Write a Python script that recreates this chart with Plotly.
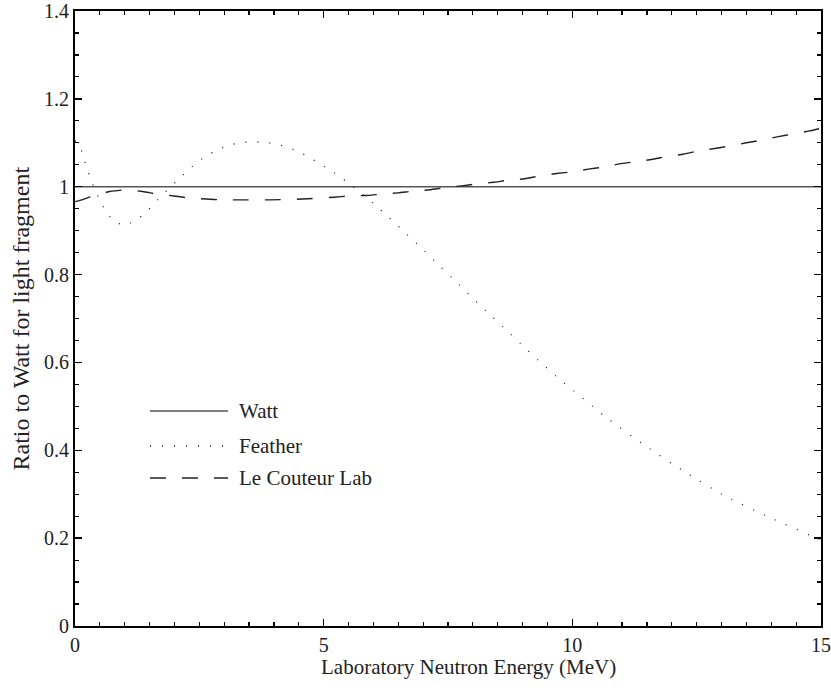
import plotly.graph_objects as go

# ---- data ----
watt_x = [0, 15]
watt_y = [1.0, 1.0]

feather_x = [0, 0.09, 0.17, 0.24, 0.32, 0.41, 0.51, 0.63, 0.78, 1.0, 1.23, 1.42, 1.58, 1.74,
             1.92, 2.09, 2.27, 2.45, 2.65, 2.86, 3.08, 3.31, 3.55, 3.79, 4.04, 4.27, 4.49,
             4.71, 4.91, 5.12, 5.32, 5.52, 5.70, 5.89, 6.07, 6.25, 6.43, 6.60, 6.96, 7.30,
             7.65, 7.99, 8.34, 8.69, 9.04, 9.39, 9.75, 10.13, 10.69, 11.47, 12.27, 13.10,
             13.97, 14.85, 15]
feather_y = [1.105, 1.094, 1.068, 1.042, 1.016, 0.991, 0.966, 0.942, 0.922, 0.912, 0.924,
             0.941, 0.960, 0.980, 0.999, 1.018, 1.037, 1.055, 1.071, 1.084, 1.094, 1.100,
             1.102, 1.102, 1.097, 1.090, 1.080, 1.067, 1.053, 1.039, 1.023, 1.007, 0.990,
             0.973, 0.955, 0.936, 0.918, 0.899, 0.861, 0.823, 0.785, 0.747, 0.709, 0.672,
             0.634, 0.597, 0.561, 0.526, 0.474, 0.410, 0.350, 0.294, 0.247, 0.203, 0.196]

lecouteur_x = [0, 0.1, 0.4, 0.7, 1.03, 1.36, 1.66, 1.99, 2.31, 2.64, 2.96, 3.28, 3.92, 4.57,
               5.2, 5.52, 5.85, 6.16, 6.5, 6.8, 7.13, 7.44, 7.77, 8.07, 8.41, 8.72, 9.04,
               9.36, 9.68, 10.0, 10.32, 10.64, 10.95, 11.27, 11.59, 11.91, 12.23, 12.55,
               12.86, 13.18, 13.5, 13.81, 14.14, 14.44, 14.77, 15]
lecouteur_y = [0.966, 0.969, 0.980, 0.989, 0.993, 0.989, 0.983, 0.979, 0.974, 0.972, 0.970,
               0.970, 0.970, 0.972, 0.976, 0.979, 0.980, 0.983, 0.986, 0.990, 0.993, 0.998,
               1.002, 1.006, 1.010, 1.015, 1.018, 1.025, 1.030, 1.034, 1.040, 1.045, 1.052,
               1.057, 1.062, 1.069, 1.074, 1.082, 1.087, 1.093, 1.100, 1.106, 1.114, 1.120,
               1.127, 1.133]

series_names = ["Watt", "Feather", "Le Couteur Lab"]
x_ticks = [0, 5, 10, 15]
y_ticks = [0, 0.2, 0.4, 0.6, 0.8, 1.0, 1.2, 1.4]
y_tick_labels = ["0", "0.2", "0.4", "0.6", "0.8", "1", "1.2", "1.4"]
x_title = "Laboratory Neutron Energy (MeV)"
y_title = "Ratio to Watt for light fragment"

FONT = "Liberation Serif, Times New Roman, serif"
styles = [
    dict(color="#555555", width=1.5, dash="solid"),
    dict(color="#222222", width=1.3, dash="1px,11px"),
    dict(color="#222222", width=1.4, dash="16px,16px"),
]

fig = go.Figure()
for (xs, ys), name, st in zip([(watt_x, watt_y), (feather_x, feather_y), (lecouteur_x, lecouteur_y)],
                              series_names, styles):
    fig.add_trace(go.Scatter(x=xs, y=ys, mode="lines", name=name,
                             line=dict(color=st["color"], width=st["width"], dash=st["dash"],
                                       shape="spline", smoothing=0.5),
                             showlegend=False, hoverinfo="skip"))

# legend drawn as decoration (line samples + labels) in paper coordinates
leg_rows = [0.3496, 0.2927, 0.2407]
for name, st, yy in zip(series_names, styles, leg_rows):
    fig.add_shape(type="line", xref="paper", yref="paper", x0=0.1005, x1=0.205, y0=yy, y1=yy,
                  line=dict(color=st["color"], width=st["width"], dash=st["dash"]))
    fig.add_annotation(xref="paper", yref="paper", x=0.217, y=yy, text=name, showarrow=False,
                       xanchor="left", yanchor="middle", font=dict(family=FONT, size=21, color="#222222"))

fig.add_annotation(xref="paper", yref="paper", x=0.527, y=-0.0667, text=x_title, showarrow=False,
                   xanchor="center", yanchor="middle", font=dict(family=FONT, size=21, color="#222222"))
fig.add_annotation(xref="paper", yref="paper", x=-0.0724, y=0.5, text=y_title, showarrow=False,
                   textangle=-90, xanchor="center", yanchor="middle",
                   font=dict(family=FONT, size=24, color="#222222"))

axis_common = dict(showgrid=False, zeroline=False, showline=True, linecolor="black", linewidth=2,
                   mirror="ticks", ticks="inside", ticklen=7, tickwidth=1.5, tickcolor="black",
                   tickfont=dict(family=FONT, size=20, color="#222222"))
fig.update_xaxes(range=[0, 15], tickvals=x_ticks, ticktext=[str(v) for v in x_ticks],
                 minor=dict(dtick=0.5, ticks="inside", ticklen=4, tickwidth=1.2, tickcolor="black"),
                 **axis_common)
fig.update_yaxes(range=[0, 1.4], tickvals=y_ticks, ticktext=y_tick_labels,
                 minor=dict(dtick=0.05, ticks="inside", ticklen=4, tickwidth=1.2, tickcolor="black"),
                 **axis_common)

fig.update_layout(width=831, height=690, margin=dict(l=75, r=10, t=11, b=64, autoexpand=False),
                  paper_bgcolor="white", plot_bgcolor="white", showlegend=False)

fig.write_html("out.html", config={"displayModeBar": False, "staticPlot": True},
               post_script="document.body.style.margin='0';document.body.style.overflow='hidden';")
